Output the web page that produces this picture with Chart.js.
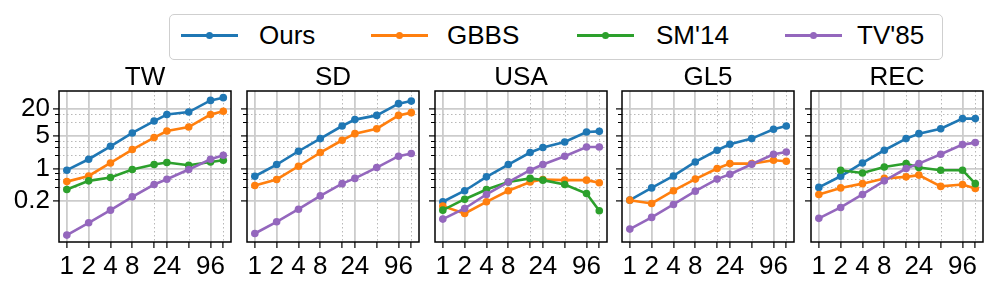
<!DOCTYPE html>
<html>
<head>
<meta charset="utf-8">
<script src="https://cdn.jsdelivr.net/npm/chart.js@4.4.1/dist/chart.umd.min.js"></script>
<style>
  body { margin: 0; width: 996px; height: 295px; background: #fff; position: relative; overflow: hidden;
         font-family: "Liberation Sans", Arial, sans-serif; }
  canvas { position: absolute; }
  #legend { position: absolute; left: 169px; top: 14px; width: 774px; height: 46px; box-sizing: border-box;
            border: 1.3px solid #cfcfcf; border-radius: 5px; }
  .sw { position: absolute; width: 57px; height: 2.7px; }
  .sw i { position: absolute; left: 24.5px; top: -2.4px; width: 7.5px; height: 7.5px; border-radius: 50%; background: inherit; }
  .lab { position: absolute; font-size: 26px; line-height: 30px; color: #000; }
</style>
</head>
<body>
<div id="legend"></div>

<script>
// x = number of threads, y = running time (shared log axes)
var panels = ['TW', 'SD', 'USA', 'GL5', 'REC'];
var threads = [1, 2, 4, 8, 16, 24, 48, 96, 144];
var xLabels = [1, 2, 4, 8, 24, 96];
var xMinor = [16, 48, 144];
var yMajor = [0.2, 1, 5, 20];
var yMinor = [0.4, 0.6, 0.8, 2, 3, 4, 10, 15];

var seriesNames = ['Ours', 'GBBS', "SM'14", "TV'85"];
var colors = ['#1f77b4', '#ff7f0e', '#2ca02c', '#9467bd'];

// one row per panel (TW, SD, USA, GL5, REC)
var ours = [
  [0.92, 1.59, 3.04, 5.9, 10.7, 14.8, 16.8, 30, 34.4],
  [0.68, 1.22, 2.37, 4.46, 8.36, 11.5, 14.2, 25.5, 29],
  [0.19, 0.33, 0.66, 1.22, 2.22, 2.85, 3.76, 6.2, 6.4],
  [0.206, 0.38, 0.69, 1.39, 2.49, 3.36, 4.46, 7.1, 8.36],
  [0.39, 0.68, 1.32, 2.49, 4.46, 5.7, 7.3, 12.1, 12.1]
];
var gbbs = [
  [0.52, 0.69, 1.32, 2.58, 4.69, 6.5, 7.95, 14.8, 17.4],
  [0.43, 0.58, 1.12, 2.22, 4.1, 5.7, 7.3, 14.2, 16.3],
  [0.153, 0.106, 0.19, 0.33, 0.51, 0.58, 0.56, 0.56, 0.49],
  [0.206, 0.175, 0.33, 0.59, 1.0, 1.28, 1.28, 1.51, 1.44],
  [0.274, 0.38, 0.47, 0.61, 0.66, 0.72, 0.41, 0.45, 0.37]
];
var sm14 = [
  [0.35, 0.54, 0.64, 0.95, 1.22, 1.35, 1.18, 1.39, 1.51],
  [],
  [0.125, 0.216, 0.35, 0.51, 0.61, 0.56, 0.45, 0.288, 0.121],
  [],
  [null, 0.92, 0.80, 1.08, 1.28, 1.05, 0.92, 0.92, 0.47]
];
var tv85 = [
  [0.036, 0.0665, 0.125, 0.243, 0.45, 0.586, 0.95, 1.59, 1.94],
  [0.039, 0.07, 0.131, 0.255, 0.47, 0.61, 1.05, 1.85, 2.11],
  [0.08, 0.136, 0.274, 0.51, 0.92, 1.22, 1.85, 2.93, 2.93],
  [0.0486, 0.087, 0.166, 0.323, 0.59, 0.75, 1.24, 2.04, 2.29],
  [0.083, 0.143, 0.274, 0.54, 1.0, 1.28, 2.04, 3.3, 3.65]
];
var allSeries = [ours, gbbs, sm14, tv85];

var plotLefts = [59, 247, 435, 622, 811];
var plotW = 172, plotH = 151, plotTop = 91;
var FONT = '"Liberation Sans", Arial, sans-serif';

// legend
var legend = document.getElementById('legend');
var swLeft = [180, 370, 576, 784], labLeft = [258, 446, 655, 856];
seriesNames.forEach(function(n, i) {
  var sw = document.createElement('div');
  sw.className = 'sw';
  sw.style.left = (swLeft[i] - 169) + 'px';
  sw.style.top = (34.7 - 14 - 1.35) + 'px';
  sw.style.background = colors[i];
  sw.appendChild(document.createElement('i'));
  legend.appendChild(sw);
  var lab = document.createElement('div');
  lab.className = 'lab';
  lab.style.left = (labLeft[i] - 169) + 'px';
  lab.style.top = (34.7 - 14 - 16) + 'px';
  lab.textContent = n;
  legend.appendChild(lab);
});

var extras = {
  id: 'extras',
  beforeDatasetsDraw: function(chart) {
    var ctx = chart.ctx, a = chart.chartArea, x = chart.scales.x, y = chart.scales.y;
    ctx.save();
    ctx.strokeStyle = '#b8b8b8';
    ctx.lineWidth = 1;
    ctx.setLineDash([1.5, 2.5]);
    ctx.beginPath();
    xMinor.forEach(function(v) {
      var px = Math.round(x.getPixelForValue(v)) + 0.5;
      ctx.moveTo(px, a.top); ctx.lineTo(px, a.bottom);
    });
    yMinor.forEach(function(v) {
      var py = Math.round(y.getPixelForValue(v)) + 0.5;
      ctx.moveTo(a.left, py); ctx.lineTo(a.right, py);
    });
    ctx.stroke();
    ctx.setLineDash([]);
    ctx.strokeStyle = '#000';
    ctx.lineWidth = 1;
    ctx.beginPath();
    yMinor.forEach(function(v) {
      var py = Math.round(y.getPixelForValue(v)) + 0.5;
      ctx.moveTo(a.left - 4, py); ctx.lineTo(a.left, py);
    });
    ctx.stroke();
    ctx.restore();
  },
  afterDraw: function(chart) {
    var ctx = chart.ctx, a = chart.chartArea;
    ctx.save();
    ctx.strokeStyle = '#000';
    ctx.lineWidth = 1.5;
    ctx.strokeRect(a.left, a.top, a.right - a.left, a.bottom - a.top);
    ctx.restore();
  }
};

panels.forEach(function(name, p) {
  var yw = p === 0 ? 59 : 14;
  var titleH = 5 + 26;   // padding.top + 26px * lineHeight 1
  var cv = document.createElement('canvas');
  cv.width = yw + plotW + 8;
  cv.height = titleH + plotH + 50;
  cv.style.left = (plotLefts[p] - yw) + 'px';
  cv.style.top = (plotTop - titleH) + 'px';
  document.body.appendChild(cv);

  var datasets = [];
  allSeries.forEach(function(s, i) {
    if (!s[p].length) return;
    datasets.push({
      label: seriesNames[i],
      data: s[p],
      borderColor: colors[i],
      backgroundColor: colors[i],
      borderWidth: 2.6,
      pointRadius: 3.8,
      pointBorderWidth: 0,
      tension: 0,
      spanGaps: false,
      order: 3 - i
    });
  });

  new Chart(cv, {
    type: 'line',
    data: { labels: threads, datasets: datasets },
    options: {
      responsive: false,
      animation: false,
      devicePixelRatio: 1,
      layout: { padding: { left: 0, right: 8, top: 0, bottom: 0 } },
      plugins: {
        legend: { display: false },
        tooltip: { enabled: false },
        title: {
          display: true, text: name, color: '#000', fullSize: false,
          font: { family: FONT, size: 26, weight: 'normal', lineHeight: 1 },
          padding: { top: 5, bottom: 0 }
        }
      },
      scales: {
        x: {
          type: 'logarithmic',
          min: 0.78, max: 184,
          afterBuildTicks: function(s) { s.ticks = threads.map(function(v) { return { value: v }; }); },
          afterFit: function(s) { s.height = 50; },
          ticks: {
            autoSkip: false, maxRotation: 0, padding: 3, color: '#000',
            font: { family: FONT, size: 26 },
            callback: function(v) { return xLabels.indexOf(v) >= 0 ? String(v) : ''; }
          },
          grid: {
            color: function(c) { return c.tick && xLabels.indexOf(c.tick.value) >= 0 ? '#cccccc' : 'rgba(0,0,0,0)'; },
            lineWidth: 1.8,
            tickColor: '#000', tickLength: 6, tickWidth: 1.2
          },
          border: { display: false }
        },
        y: {
          type: 'logarithmic',
          min: 0.0255, max: 48,
          afterBuildTicks: function(s) { s.ticks = yMajor.map(function(v) { return { value: v }; }); },
          afterFit: function(s) { s.width = yw; },
          ticks: {
            display: p === 0, padding: 3, color: '#000',
            font: { family: FONT, size: 26 },
            callback: function(v) { return String(v); }
          },
          grid: {
            color: '#cccccc', lineWidth: 1.8,
            tickColor: '#000', tickLength: 6, tickWidth: 1.2
          },
          border: { display: false }
        }
      }
    },
    plugins: [extras]
  });
});
</script>
</body>
</html>
